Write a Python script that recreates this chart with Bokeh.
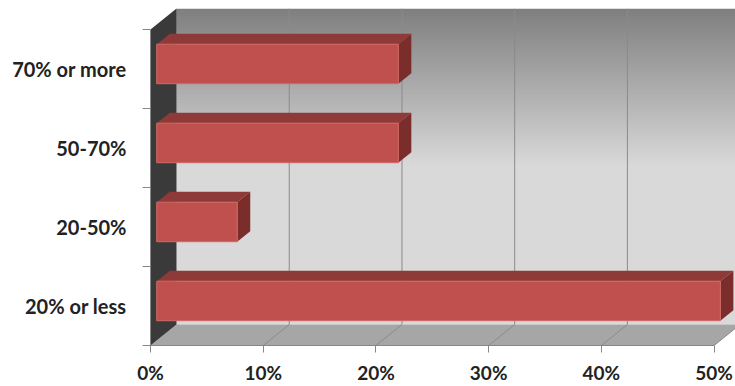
import numpy as np
from bokeh.plotting import figure
from bokeh.models import FixedTicker, PrintfTickFormatter, Range1d
from bokeh.embed import file_html
from bokeh.resources import INLINE

# ---- data ----
categories = ["20% or less", "20-50%", "50-70%", "70% or more"]
values = [50.0, 7.14, 21.43, 21.43]          # percent of responses
x_ticks = [0, 10, 20, 30, 40, 50]

# ---- 3D geometry (in data units) ----
DX = 2.31      # depth offset along x (percent units)
DY = 0.266     # depth offset along y (category units)
F0 = 0.24      # bar front plane depth fraction
FD = 0.50      # bar depth fraction
BAR_H = 0.5

X_END = 51.9
Y_END = 4 + DY

p = figure(width=735, height=386, output_backend="svg", toolbar_location=None,
           x_range=Range1d(0, X_END), y_range=Range1d(0, Y_END),
           min_border_left=150, min_border_right=0, min_border_top=8, min_border_bottom=41)
p.xgrid.visible = False
p.ygrid.visible = False
p.outline_line_color = None
p.background_fill_color = "white"
p.border_fill_color = "white"

# back wall gradient (dark at top to light further down)
n = 60
y_top = Y_END
y_flat = 2.28
edges = np.linspace(y_flat, y_top, n + 1)
c0 = np.array([0xd9, 0xd9, 0xd9])
c1 = np.array([0x7f, 0x7f, 0x7f])
cols = []
for i in range(n):
    t = (i + 0.5) / n
    c = (c0 + (c1 - c0) * t).astype(int)
    cols.append("#%02x%02x%02x" % tuple(c))
p.quad(left=DX, right=X_END + 5, bottom=DY, top=y_flat + 0.02, fill_color="#d9d9d9", line_color=None)
p.quad(left=DX, right=X_END + 5, bottom=edges[:-1], top=np.minimum(edges[1:] + 0.02, y_top),
       fill_color=cols, line_color=None)

# floor
xmax = x_ticks[-1]
p.patch([0, xmax, xmax + DX, DX], [0, 0, DY, DY], fill_color="#a6a6a6", line_color=None)

# left wall
p.patch([0, 0, DX, DX], [0, 4, 4 + DY, DY], fill_color="#3a3a3a", line_color=None)

# gridlines on back wall and floor
gx = [t for t in x_ticks if t > 0]
p.segment(x0=[t + DX for t in gx], y0=DY, x1=[t + DX for t in gx], y1=4 + DY,
          line_color="#8a8a8a", line_width=1)
p.segment(x0=gx, y0=0, x1=[t + DX for t in gx], y1=DY, line_color="#8a8a8a", line_width=1)

# bars
for i, v in enumerate(values):
    x0 = F0 * DX
    x1 = x0 + v
    yb = i + 0.5 - BAR_H / 2 + F0 * DY
    yt = yb + BAR_H
    ddx = FD * DX
    ddy = FD * DY
    # top face
    p.patch([x0, x1, x1 + ddx, x0 + ddx], [yt, yt, yt + ddy, yt + ddy],
            fill_color="#8e3a38", line_color=None)
    # right face
    p.patch([x1, x1, x1 + ddx, x1 + ddx], [yb, yt, yt + ddy, yb + ddy],
            fill_color="#7b2d2b", line_color=None)
    # front face
    p.quad(left=x0, right=x1, bottom=yb, top=yt, fill_color="#c0504d",
           line_color="#d06a66", line_width=1)

# axes
xa = p.xaxis[0]
xa.ticker = FixedTicker(ticks=x_ticks, minor_ticks=[])
xa.formatter = PrintfTickFormatter(format="%d%%")
xa.bounds = (0, xmax)
xa.axis_line_color = "#868686"
xa.major_tick_line_color = "#868686"
xa.major_tick_out = 7
xa.major_tick_in = 0
xa.major_label_standoff = 8
xa.major_label_text_font = "Lato"
xa.major_label_text_font_style = "bold"
xa.major_label_text_font_size = "19px"
xa.major_label_text_color = "#222222"

ya = p.yaxis[0]
ya.ticker = FixedTicker(ticks=[i + 0.5 for i in range(len(categories))],
                        minor_ticks=list(range(len(categories) + 1)))
ya.major_label_overrides = {i + 0.5: c for i, c in enumerate(categories)}
ya.bounds = (0, len(categories))
ya.axis_line_color = "#868686"
ya.major_tick_out = 0
ya.major_tick_in = 0
ya.minor_tick_line_color = "#868686"
ya.minor_tick_out = 8
ya.minor_tick_in = 0
ya.major_label_standoff = 16
ya.major_label_text_font = "Lato"
ya.major_label_text_font_style = "bold"
ya.major_label_text_font_size = "20px"
ya.major_label_text_color = "#222222"

open("out.html", "w").write(file_html(p, INLINE))
